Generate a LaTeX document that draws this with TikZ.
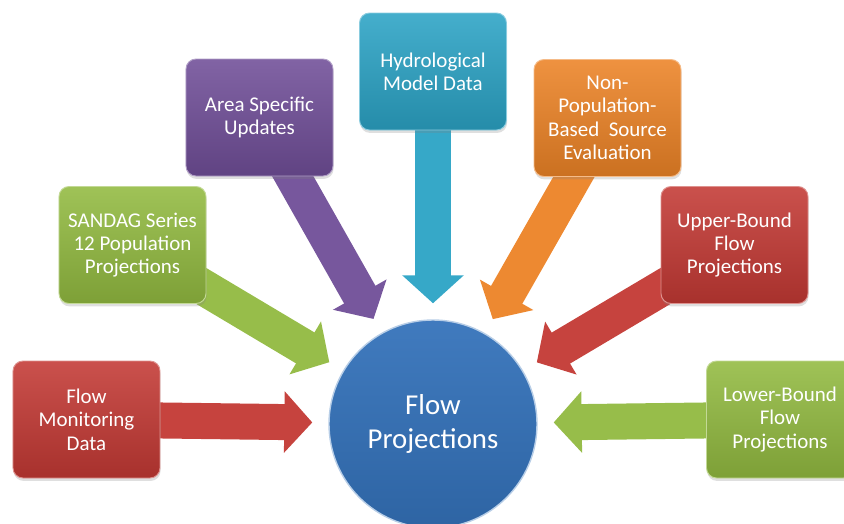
\documentclass[tikz,border=0pt]{standalone}
\usepackage{fontspec}
\setmainfont{Carlito}
\usetikzlibrary{arrows.meta,shadows,backgrounds}
\definecolor{srcred}{RGB}{195,57,52}
\definecolor{srcgreen}{RGB}{146,186,64}
\definecolor{srcpurple}{RGB}{112,78,152}
\definecolor{srcteal}{RGB}{43,163,197}
\definecolor{srcorange}{RGB}{236,131,38}
\definecolor{hubblue}{RGB}{52,114,186}

\begin{document}
\begin{tikzpicture}[x=0.03cm, y=-0.03cm,
	srcbox/.style={rectangle, rounded corners=0.3cm, minimum width=4.41cm, minimum height=3.51cm, align=center, text=white, font=\fontsize{17.9}{19.9}\selectfont, top color=#1!88!white, bottom color=#1!86!black, draw=#1!55!white, line width=0.8pt, drop shadow={opacity=0.25, shadow xshift=0.5pt, shadow yshift=-2.5pt}},
	hub/.style={circle, minimum size=6.24cm, align=center, text=white, font=\fontsize{24.6}{29}\selectfont, top color=hubblue!94!white, bottom color=hubblue!88!black, draw=hubblue!35!white, line width=1.2pt},
	feed/.style={draw=#1!95!white, line width=1.08cm, shorten >=0.48cm, -{Triangle[length=0.84cm, width=1.8cm]}}]
	\path[use as bounding box, clip] (0,0) rectangle (844,523);
	\node[hub] (flow) at (433,424) {Flow\\Projections};
	\node[srcbox=srcred] (monitor) at (86.5,419.5) {Flow\\Monitoring\\Data};
	\node[srcbox=srcgreen] (sandag) at (132.5,245) {SANDAG Series\\12 Population\\Projections};
	\node[srcbox=srcpurple] (area) at (259.5,117.5) {Area Specific\\Updates};
	\node[srcbox=srcteal] (hydro) at (433,71.5) {Hydrological\\Model Data};
	\node[srcbox=srcorange] (nonpop) at (607.5,118) {Non-\\Population-\\Based~~Source\\Evaluation};
	\node[srcbox=srcred] (upper) at (734.5,245) {Upper-Bound\\Flow\\Projections};
	\node[srcbox=srcgreen] (lower) at (780,419.5) {Lower-Bound\\Flow\\Projections};
	\begin{scope}[on background layer]
		\draw[feed=srcred] (monitor.center) -- (flow);
		\draw[feed=srcgreen] (sandag.center) -- (flow);
		\draw[feed=srcpurple] (area.center) -- (flow);
		\draw[feed=srcteal] (hydro.center) -- (flow);
		\draw[feed=srcorange] (nonpop.center) -- (flow);
		\draw[feed=srcred] (upper.center) -- (flow);
		\draw[feed=srcgreen] (lower.center) -- (flow);
	\end{scope}
\end{tikzpicture}
\end{document}
